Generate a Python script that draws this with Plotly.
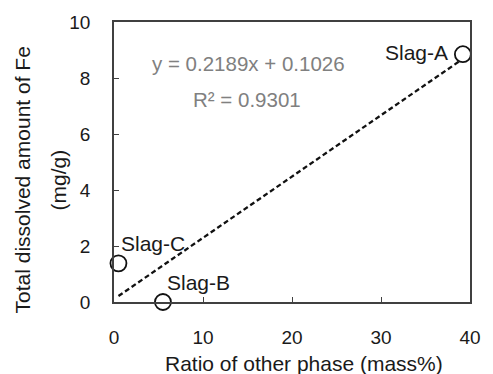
import plotly.graph_objects as go

# Measured samples
slag_names = ["Slag-A", "Slag-B", "Slag-C"]
other_phase_ratio = [39.2, 5.5, 0.5]       # mass%
dissolved_fe = [8.85, 0.0, 1.38]           # mg/g

# Linear fit reported for the samples
fit_slope = 0.2189
fit_intercept = 0.1026
fit_r2 = 0.9301

x_ticks = [0, 10, 20, 30, 40]
y_ticks = [0, 2, 4, 6, 8, 10]

FONT = "Arial, Liberation Sans, sans-serif"
AXIS_COLOR = "#404040"
TEXT_COLOR = "#1a1a1a"

fig = go.Figure()

# Trend line across the sampled range
x_min, x_max = min(other_phase_ratio), max(other_phase_ratio)
fig.add_trace(go.Scatter(
    x=[x_min, x_max],
    y=[fit_slope * x_min + fit_intercept, fit_slope * x_max + fit_intercept],
    mode="lines",
    line=dict(color="#111111", width=2.3, dash="5px,3px"),
    hoverinfo="skip",
    showlegend=False,
))

# Sample points
fig.add_trace(go.Scatter(
    x=other_phase_ratio,
    y=dissolved_fe,
    mode="markers",
    marker=dict(symbol="circle", size=16, color="white",
                line=dict(color="#111111", width=1.8)),
    text=slag_names,
    cliponaxis=False,
    showlegend=False,
))

# Sample labels placed beside each point
label_offsets = {"Slag-A": (-46, 2), "Slag-B": (36, 20), "Slag-C": (35, 20)}
for name, xv, yv in zip(slag_names, other_phase_ratio, dissolved_fe):
    dx, dy = label_offsets[name]
    fig.add_annotation(
        x=xv, y=yv, xref="x", yref="y", text=name, showarrow=False,
        xshift=dx, yshift=dy, font=dict(family=FONT, size=21, color=TEXT_COLOR),
    )

# Fit equation and coefficient of determination
fig.add_annotation(
    x=15.1, y=8.53, xref="x", yref="y", showarrow=False,
    text=f"y = {fit_slope:.4f}x + {fit_intercept:.4f}",
    font=dict(family=FONT, size=20.5, color="#808080"),
)
fig.add_annotation(
    x=14.9, y=7.25, xref="x", yref="y", showarrow=False,
    text=f"R² = {fit_r2:.4f}",
    font=dict(family=FONT, size=20.5, color="#808080"),
)

# Axis titles
fig.add_annotation(
    x=0.533, y=0, xref="paper", yref="paper", yshift=-61, showarrow=False,
    text="Ratio of other phase (mass%)", yanchor="middle",
    font=dict(family=FONT, size=21, color=TEXT_COLOR),
)
fig.add_annotation(
    x=0, y=0.434, xref="paper", yref="paper", xshift=-92, showarrow=False,
    text="Total dissolved amount of Fe", textangle=-90, xanchor="center",
    font=dict(family=FONT, size=21, color=TEXT_COLOR),
)
fig.add_annotation(
    x=0, y=0.434, xref="paper", yref="paper", xshift=-56, showarrow=False,
    text="(mg/g)", textangle=-90, xanchor="center",
    font=dict(family=FONT, size=21, color=TEXT_COLOR),
)

axis_common = dict(
    showgrid=False, zeroline=False, showline=True, mirror=True,
    linecolor=AXIS_COLOR, linewidth=1.8,
    ticks="inside", ticklen=5, tickwidth=1.3, tickcolor=AXIS_COLOR,
    tickfont=dict(family=FONT, size=19, color=TEXT_COLOR),
)

fig.update_xaxes(range=[0, 40], tickvals=x_ticks, ticklabelstandoff=17, **axis_common)
fig.update_yaxes(range=[0, 10], tickvals=y_ticks, ticklabelstandoff=18, **axis_common)

fig.update_layout(
    width=493, height=374,
    margin=dict(l=114, r=13, t=21, b=72),
    paper_bgcolor="white", plot_bgcolor="white",
    font=dict(family=FONT),
)

fig.write_html("out.html")
